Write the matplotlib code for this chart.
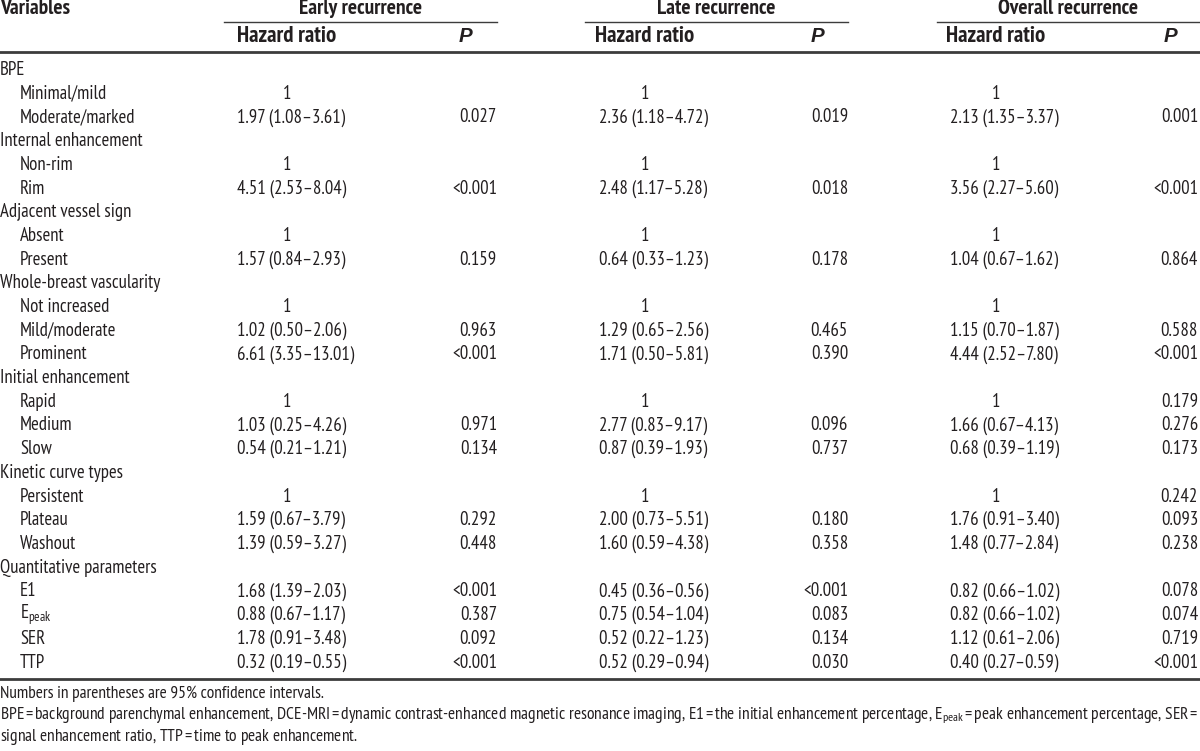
import matplotlib
matplotlib.use("Agg")
import matplotlib.pyplot as plt
from matplotlib import font_manager

installed = {f.name for f in font_manager.fontManager.ttflist}
FONT = next((f for f in ["PT Sans Narrow", "Liberation Sans Narrow", "Liberation Sans"]
             if f in installed), "DejaVu Sans")
plt.rcParams["font.family"] = [FONT, "DejaVu Sans"]
plt.rcParams["mathtext.fontset"] = "custom"
plt.rcParams["mathtext.rm"] = FONT
plt.rcParams["mathtext.it"] = FONT
plt.rcParams["mathtext.bf"] = FONT + ":bold"

INK = "#231f20"
RULE = "#3c3c3c"
EQ = r"$\,$=$\,$"  # "=" with thin spaces, as in the notes

groups = ["Early recurrence", "Late recurrence", "Overall recurrence"]

row_labels = ["BPE", "Minimal/mild", "Moderate/marked",
              "Internal enhancement", "Non-rim", "Rim",
              "Adjacent vessel sign", "Absent", "Present",
              "Whole-breast vascularity", "Not increased", "Mild/moderate", "Prominent",
              "Initial enhancement", "Rapid", "Medium", "Slow",
              "Kinetic curve types", "Persistent", "Plateau", "Washout",
              "Quantitative parameters", "E1", r"E$_{\mathrm{peak}}$", "SER", "TTP"]
row_is_group = [True, False, False, True, False, False, True, False, False,
                True, False, False, False, True, False, False, False,
                True, False, False, False, True, False, False, False, False]

early_hr = ["", "1", "1.97 (1.08–3.61)", "", "1", "4.51 (2.53–8.04)", "", "1", "1.57 (0.84–2.93)",
            "", "1", "1.02 (0.50–2.06)", "6.61 (3.35–13.01)", "", "1", "1.03 (0.25–4.26)",
            "0.54 (0.21–1.21)", "", "1", "1.59 (0.67–3.79)", "1.39 (0.59–3.27)", "",
            "1.68 (1.39–2.03)", "0.88 (0.67–1.17)", "1.78 (0.91–3.48)", "0.32 (0.19–0.55)"]
early_p = ["", "", "0.027", "", "", "<0.001", "", "", "0.159", "", "", "0.963", "<0.001", "",
           "", "0.971", "0.134", "", "", "0.292", "0.448", "", "<0.001", "0.387", "0.092", "<0.001"]
late_hr = ["", "1", "2.36 (1.18–4.72)", "", "1", "2.48 (1.17–5.28)", "", "1", "0.64 (0.33–1.23)",
           "", "1", "1.29 (0.65–2.56)", "1.71 (0.50–5.81)", "", "1", "2.77 (0.83–9.17)",
           "0.87 (0.39–1.93)", "", "1", "2.00 (0.73–5.51)", "1.60 (0.59–4.38)", "",
           "0.45 (0.36–0.56)", "0.75 (0.54–1.04)", "0.52 (0.22–1.23)", "0.52 (0.29–0.94)"]
late_p = ["", "", "0.019", "", "", "0.018", "", "", "0.178", "", "", "0.465", "0.390", "",
          "", "0.096", "0.737", "", "", "0.180", "0.358", "", "<0.001", "0.083", "0.134", "0.030"]
overall_hr = ["", "1", "2.13 (1.35–3.37)", "", "1", "3.56 (2.27–5.60)", "", "1", "1.04 (0.67–1.62)",
              "", "1", "1.15 (0.70–1.87)", "4.44 (2.52–7.80)", "", "1", "1.66 (0.67–4.13)",
              "0.68 (0.39–1.19)", "", "1", "1.76 (0.91–3.40)", "1.48 (0.77–2.84)", "",
              "0.82 (0.66–1.02)", "0.82 (0.66–1.02)", "1.12 (0.61–2.06)", "0.40 (0.27–0.59)"]
overall_p = ["", "", "0.001", "", "", "<0.001", "", "", "0.864", "", "", "0.588", "<0.001", "",
             "0.179", "0.276", "0.173", "", "0.242", "0.093", "0.238", "", "0.078", "0.074",
             "0.719", "<0.001"]

notes = ["Numbers in parentheses are 95% confidence intervals.",
         f"BPE{EQ}background parenchymal enhancement, DCE-MRI{EQ}dynamic contrast-enhanced "
         f"magnetic resonance imaging, E1{EQ}the initial enhancement percentage, "
         f"E$_{{\\mathrm{{peak}}}}${EQ}peak enhancement percentage, SER{EQ}",
         f"signal enhancement ratio, TTP{EQ}time to peak enhancement."]

fig = plt.figure(figsize=(12, 7.51), dpi=100)
ax = fig.add_axes([0, 0, 1, 1])
ax.set_xlim(0, 1200)
ax.set_ylim(751, 0)
ax.axis("off")
renderer = fig.canvas.get_renderer()


def fit_size(s, width, base=12.0, **kw):
    t = ax.text(0, 0, s, fontsize=base, **kw)
    w = t.get_window_extent(renderer).width
    t.remove()
    return base * width / w


fs = min(fit_size("Moderate/marked", 115), 15.0)
fs_head = min(fit_size("Early recurrence", 126, fontweight="bold"), 15.5)
fs_note = min(fit_size(notes[1], 1196), 13.0)

# per group: hr left, "1"/header centre, p right, p header centre, rule start, rule end
cols = [(237, 287, 497, 465, 224, 497),
        (599, 645, 848, 817, 585, 848),
        (950, 996, 1198, 1170, 937, 1200)]
data = [(early_hr, early_p), (late_hr, late_p), (overall_hr, overall_p)]

ax.text(0, 9, "Variables", fontsize=fs_head, fontweight="bold", color=INK, va="center", ha="left")
for g, (hl, c1, pr, pc, l0, l1) in zip(groups, cols):
    ax.text((l0 + l1) / 2, 8, g, fontsize=fs_head, fontweight="bold", color=INK,
            va="center", ha="center")
    ax.plot([l0, l1], [21.5, 21.5], color=RULE, lw=1.0)
    ax.text(c1, 36, "Hazard ratio", fontsize=fs_head * 1.06, fontweight="bold", color=INK,
            va="center", ha="center")
    ax.text(pc, 36, "P", fontsize=fs_head * 0.95, fontweight="bold", style="italic", color=INK,
            family=["Liberation Sans", FONT, "DejaVu Sans"], va="center", ha="center")
ax.plot([0, 1200], [52, 52], color=RULE, lw=2.0)

y0, dy = 70, 23.7
for i, lab in enumerate(row_labels):
    y = y0 + i * dy
    ax.text(0 if row_is_group[i] else 20, y, lab, fontsize=fs, color=INK, va="center", ha="left")
    for (hl, c1, pr, pc, l0, l1), (hr, pv) in zip(cols, data):
        if hr[i] == "1":
            ax.text(c1, y, "1", fontsize=fs, color=INK, va="center", ha="center")
        elif hr[i]:
            ax.text(hl, y, hr[i], fontsize=fs, color=INK, va="center", ha="left")
        if pv[i]:
            ax.text(pr, y, pv[i], fontsize=fs, color=INK, va="center", ha="right")
ax.plot([0, 1200], [679, 679], color=RULE, lw=2.0)

for j, n in enumerate(notes):
    ax.text(0, 694 + j * 21.5, n, fontsize=fs_note, color=INK, va="center", ha="left")

fig.savefig("out.png", dpi=100)
